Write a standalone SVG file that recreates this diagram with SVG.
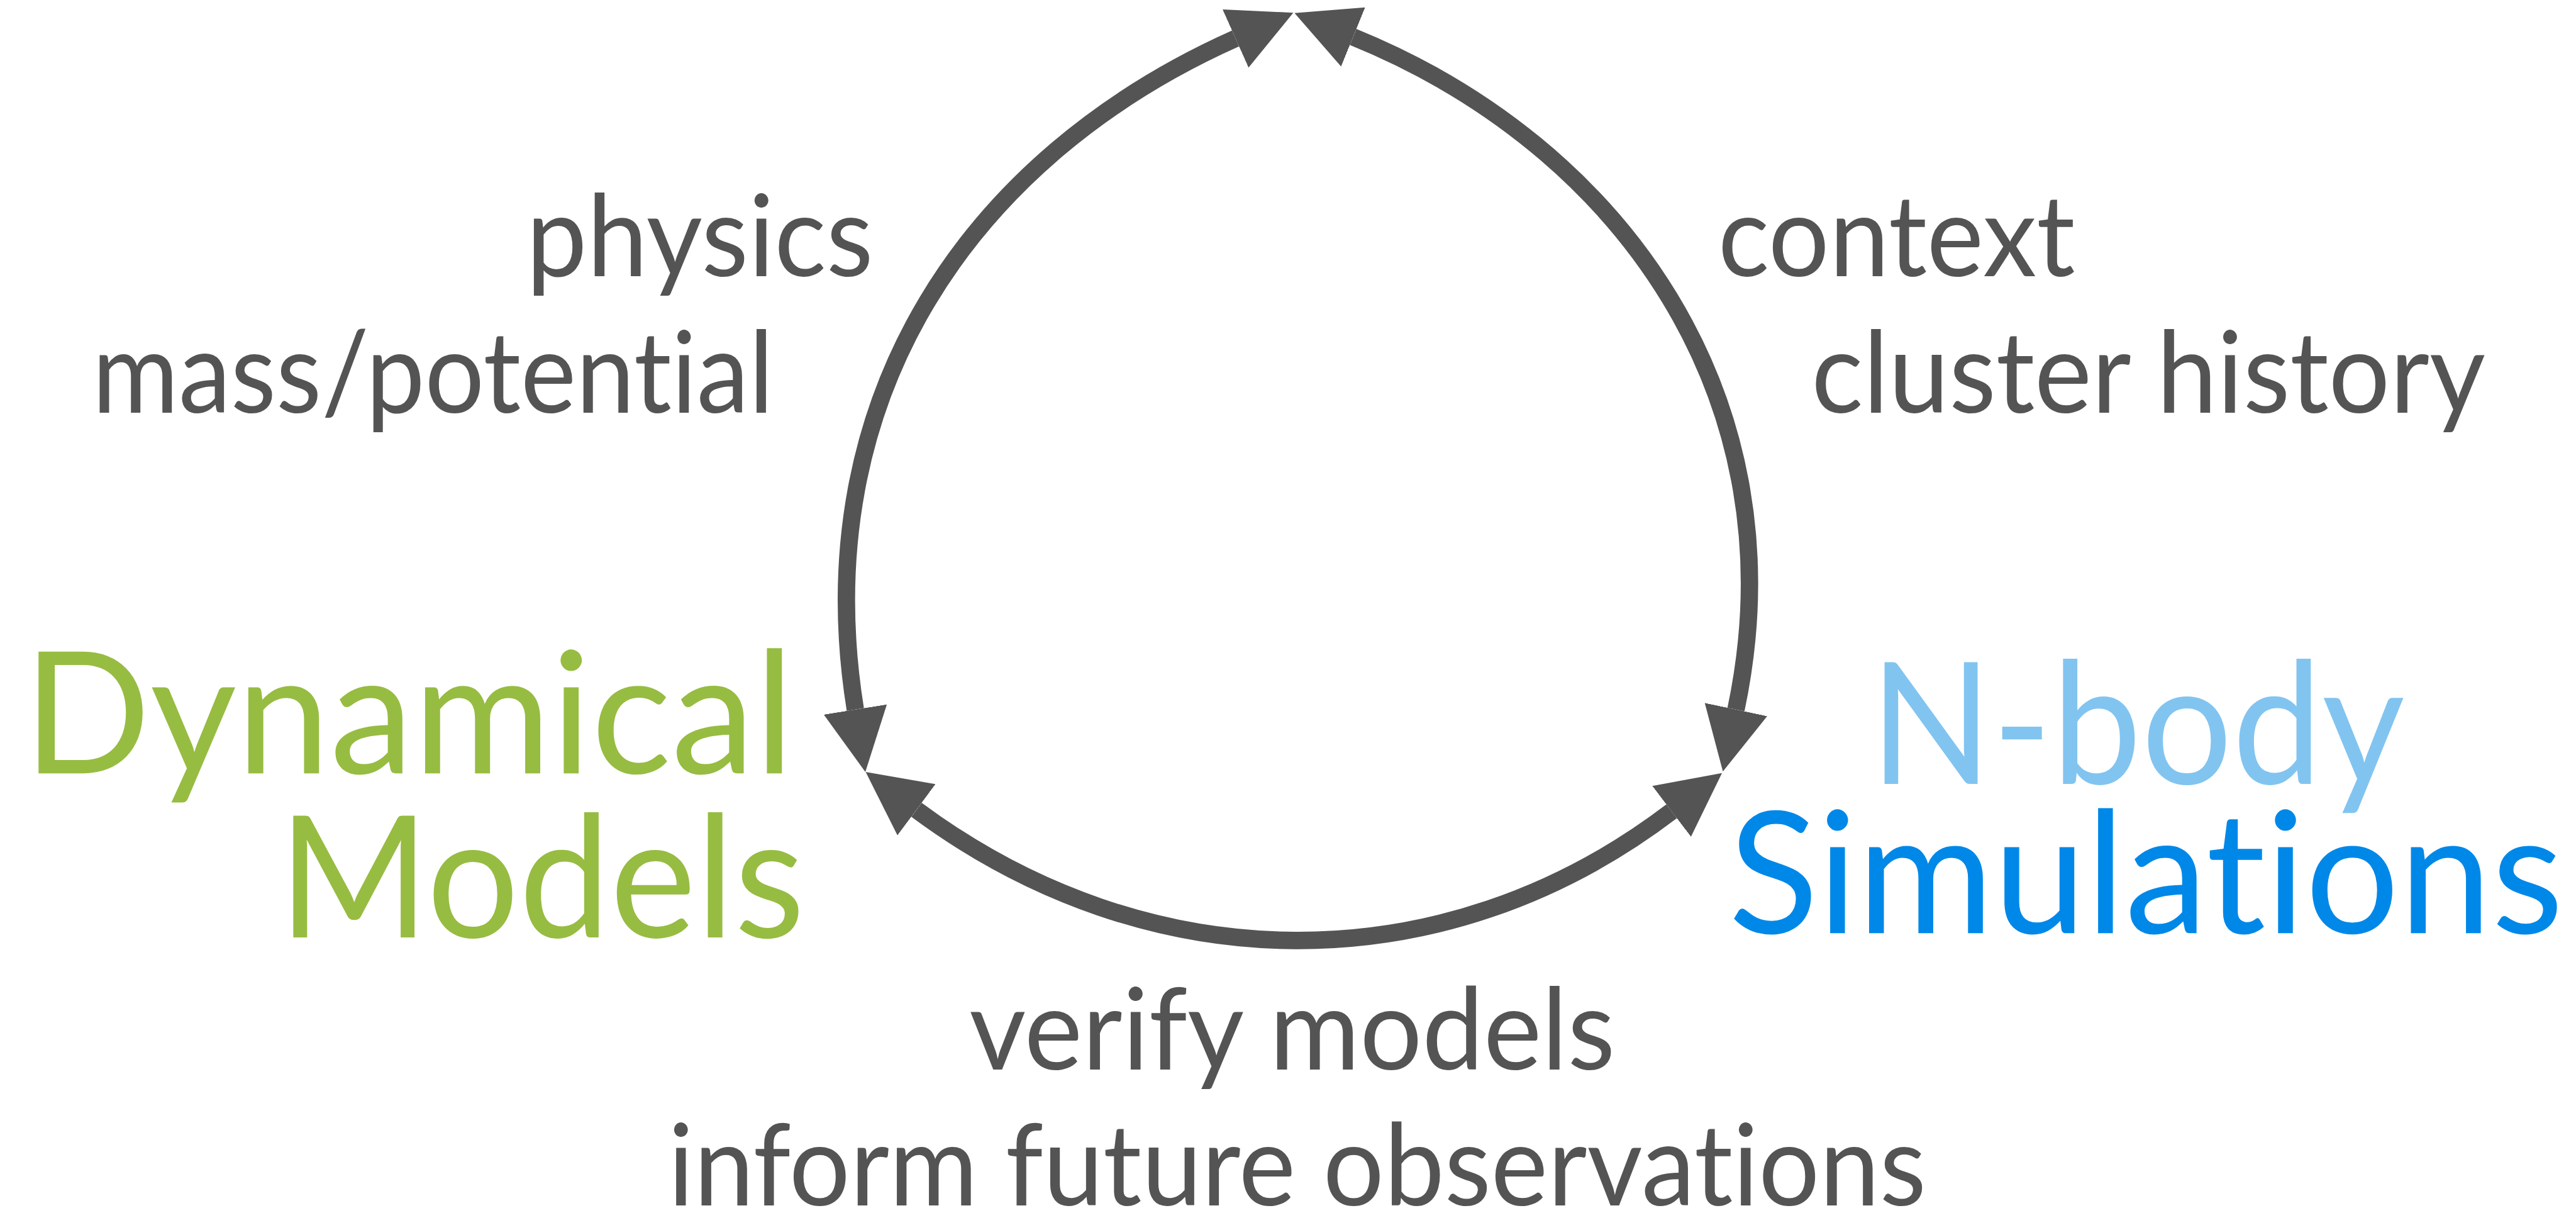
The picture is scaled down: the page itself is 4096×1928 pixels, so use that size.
<svg xmlns="http://www.w3.org/2000/svg" width="4096" height="1928" viewBox="0 0 4096 1928">
  <style>
    text { font-variant-ligatures: none; font-feature-settings: "liga" 0, "clig" 0, "dlig" 0; }
    .lbl { font-family: Lato, "Open Sans", "Liberation Sans", sans-serif; font-size: 215px; fill: #545454; }
    .big { font-family: Lato, "Open Sans", "Liberation Sans", sans-serif; font-size: 322px; }
    .green { fill: #97BC42; }
    .sky { fill: #82C4F0; }
    .blue { fill: #0088E8; }
    .conn { fill: none; stroke: #545454; stroke-width: 33; marker-start: url(#head); marker-end: url(#head); }
  </style>
  <defs>
    <marker id="head" markerUnits="userSpaceOnUse" viewBox="0 -61 121 122" refX="0" refY="0"
            markerWidth="121" markerHeight="122" orient="auto-start-reverse">
      <path d="M0,-60.5 L120,0 L0,60.5 Z" fill="#545454"/>
    </marker>
  </defs>
  <rect width="4096" height="1928" fill="#ffffff"/>
  <g transform="scale(0.838485)">
    <!-- connectors: three double-headed arcs -->
    <g id="connectors">
      <path id="edge-models-top" class="conn" d="M2343,73 C1841,297 1527,753 1622,1345"/>
      <path id="edge-sims-top" class="conn" d="M2566,70 C3075,277 3416,758 3292,1345"/>
      <path id="edge-models-sims" class="conn" d="M1738,1535 C2177,1861 2735,1869 3170,1538"/>
    </g>

    <!-- nodes -->
    <g id="node-dynamical-models">
      <text class="big green" x="44" y="1466" textLength="1462" lengthAdjust="spacingAndGlyphs">Dynamical</text>
      <text class="big green" x="528" y="1777" textLength="998" lengthAdjust="spacingAndGlyphs">Models</text>
    </g>
    <g id="node-nbody-simulations">
      <text class="big sky" x="3546" y="1486" textLength="1014" lengthAdjust="spacingAndGlyphs">N-body</text>
      <text class="big blue" x="3278" y="1769" textLength="1583" lengthAdjust="spacingAndGlyphs">Simulations</text>
    </g>

    <!-- edge labels -->
    <g id="label-left">
      <text class="lbl" x="998" y="523" textLength="658" lengthAdjust="spacingAndGlyphs">physics</text>
      <text class="lbl" x="175" y="782" textLength="1292" lengthAdjust="spacingAndGlyphs">mass/potential</text>
    </g>
    <g id="label-right">
      <text class="lbl" x="3258" y="523" textLength="677" lengthAdjust="spacingAndGlyphs">context</text>
      <text class="lbl" x="3435" y="782" textLength="1278" lengthAdjust="spacingAndGlyphs">cluster history</text>
    </g>
    <g id="label-bottom">
      <text class="lbl" x="1838" y="2027" textLength="1225" lengthAdjust="spacingAndGlyphs">verify models</text>
      <text class="lbl" x="1267" y="2285" textLength="2386" lengthAdjust="spacingAndGlyphs">inform future observations</text>
    </g>
  </g>
</svg>
